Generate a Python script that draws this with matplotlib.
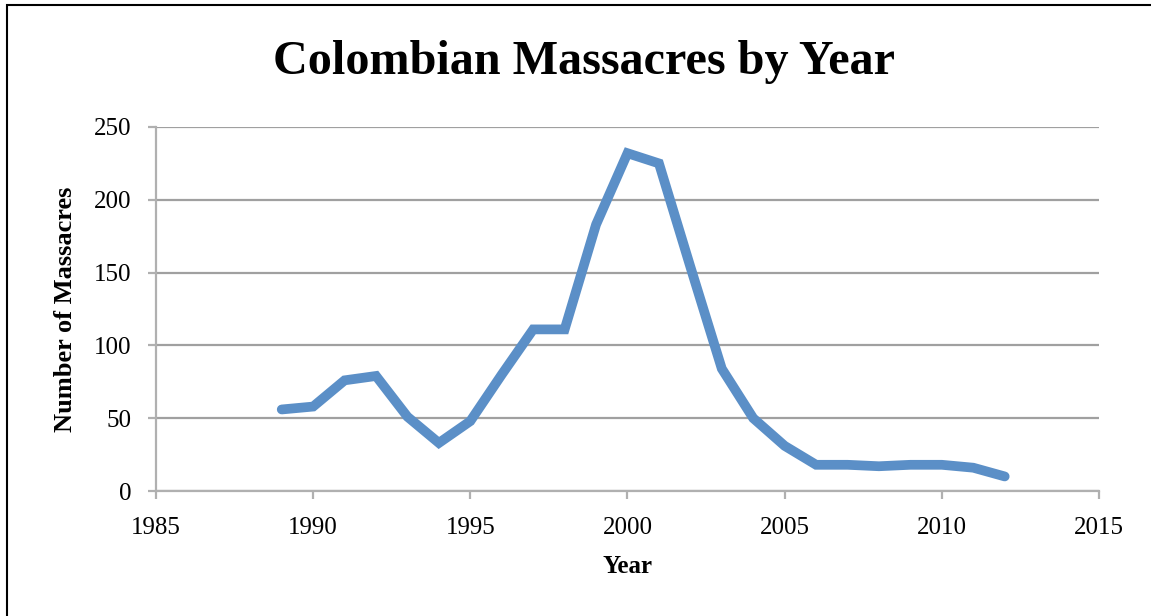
import matplotlib
matplotlib.use("Agg")
import matplotlib.pyplot as plt
from matplotlib.patches import Rectangle

years = [1989, 1990, 1991, 1992, 1993, 1994, 1995, 1996, 1997, 1998, 1999, 2000,
         2001, 2002, 2003, 2004, 2005, 2006, 2007, 2008, 2009, 2010, 2011, 2012]
massacres = [56, 58, 76, 79, 51, 33, 48, 80, 111, 111, 183, 232,
             225, 154, 84, 50, 31, 18, 18, 17, 18, 18, 16, 10]

x_ticks = [1985, 1990, 1995, 2000, 2005, 2010, 2015]
y_ticks = [0, 50, 100, 150, 200, 250]

plt.rcParams['font.family'] = ['Liberation Serif', 'DejaVu Serif']

W, H = 1151, 616
fig = plt.figure(figsize=(W / 100, H / 100), dpi=100)
ax = fig.add_axes([156 / W, 1 - 491 / H, (1099 - 156) / W, (491 - 127) / H])

grid_c = '#a0a0a0'
ax.plot(years, massacres, color='#5b8fc7', lw=7, solid_joinstyle='miter',
        solid_capstyle='round', zorder=3)

ax.set_xlim(1985, 2015)
ax.set_ylim(0, 250)
ax.set_xticks(x_ticks)
ax.set_yticks(y_ticks)
ax.yaxis.grid(True, color=grid_c, lw=1.6)
ax.set_axisbelow(True)

for s in ['top', 'right']:
    ax.spines[s].set_visible(False)
for s in ['left', 'bottom']:
    ax.spines[s].set_color('#b0b0b0')
    ax.spines[s].set_linewidth(1.6)

ax.tick_params(axis='x', direction='out', length=6, width=1.6, color='#b0b0b0',
               labelsize=18, pad=12.5)
ax.tick_params(axis='y', direction='out', length=6, width=1.6, color='#b0b0b0',
               labelsize=18, pad=12)

ax.set_xlabel('Year', fontsize=18, fontweight='bold', labelpad=12)
ax.set_ylabel('Number of Massacres', fontsize=19, fontweight='bold', labelpad=12)

fig.text(584 / W, 1 - 62 / H, 'Colombian Massacres by Year', ha='center',
         va='center', fontsize=34.7, fontweight='bold')

fig.patches.append(Rectangle((7 / W, -0.1), 1.2, 1 - 5 / H + 0.1, fill=False,
                             ec='black', lw=1.5, transform=fig.transFigure))

fig.savefig('out.png', dpi=100)
